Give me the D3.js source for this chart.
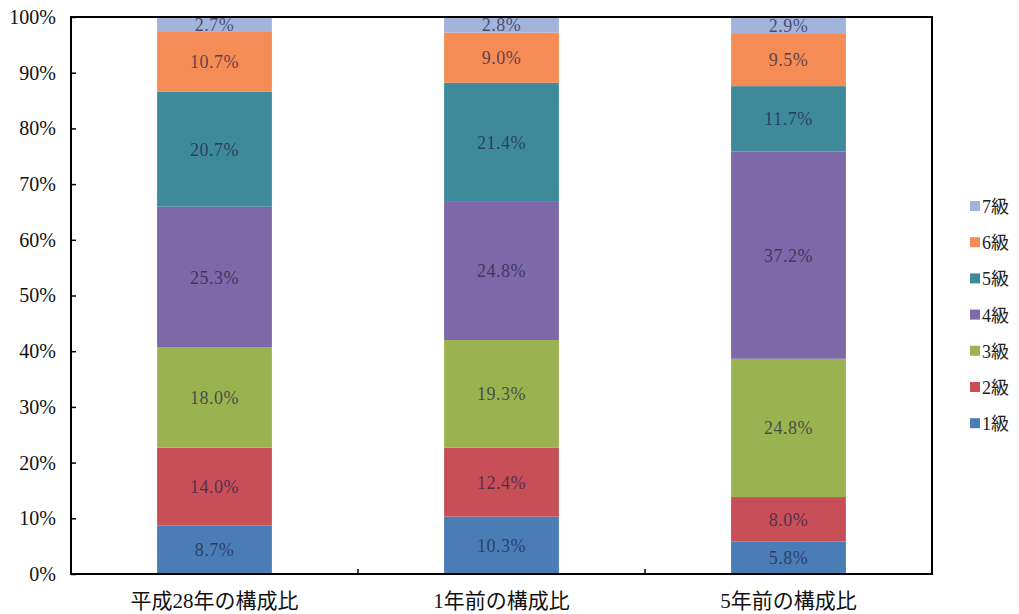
<!DOCTYPE html>
<html><head><meta charset="utf-8">
<script src="https://cdn.jsdelivr.net/npm/d3@7"></script>
<style>body{margin:0;background:#fff}svg{display:block}</style>
</head><body><svg id="c" width="1019" height="614"></svg>
<script>
const categories = ["平成28年の構成比", "1年前の構成比", "5年前の構成比"];
const grades = ["1級", "2級", "3級", "4級", "5級", "6級", "7級"];
const values = {
  "1級": [8.7, 10.3, 5.8],
  "2級": [14.0, 12.4, 8.0],
  "3級": [18.0, 19.3, 24.8],
  "4級": [25.3, 24.8, 37.2],
  "5級": [20.7, 21.4, 11.7],
  "6級": [10.7, 9.0, 9.5],
  "7級": [2.7, 2.8, 2.9]
};
const colors = ["#4a7db6", "#c84f57", "#9bb250", "#7d69a8", "#3e8a9b", "#f58b55", "#a3b4dc"];
const tickValues = [0, 0.1, 0.2, 0.3, 0.4, 0.5, 0.6, 0.7, 0.8, 0.9, 1.0];

const SERIF = "'Liberation Serif', 'DejaVu Serif', serif";
const JP = "'Liberation Serif', 'Noto Sans CJK JP', serif";

const svg = d3.select("#c");
const L = 71, R = 932, T = 17, B = 574;
const x = d3.scaleBand().domain(categories).range([L, R]).paddingInner(0).paddingOuter(0);
const y = d3.scaleLinear().domain([0, 1]).range([B, T]);

const rows = categories.map((c, i) => {
  const o = {cat: c};
  let tot = 0;
  grades.forEach(g => tot += values[g][i]);
  grades.forEach(g => { o[g] = values[g][i] / tot; o[g + "_raw"] = values[g][i]; });
  return o;
});
const stack = d3.stack().keys(grades)(rows);
const bw = x.bandwidth() * 0.4;

stack.forEach((layer, li) => {
  const g = svg.append("g");
  g.selectAll("rect").data(layer).join("rect")
    .attr("x", d => x(d.data.cat) + (x.bandwidth() - bw) / 2)
    .attr("width", bw)
    .attr("y", d => y(d[1]))
    .attr("height", d => y(d[0]) - y(d[1]))
    .attr("fill", colors[li]);
  g.selectAll("text").data(layer).join("text")
    .attr("x", d => x(d.data.cat) + x.bandwidth() / 2)
    .attr("y", d => (y(d[0]) + y(d[1])) / 2 + 6.5)
    .attr("text-anchor", "middle")
    .style("font-family", SERIF)
    .style("font-size", "18px")
    .style("letter-spacing", "0.5px")
    .attr("fill", "rgba(35,35,70,0.72)")
    .text(d => d.data[layer.key + "_raw"].toFixed(1) + "%");
});

svg.append("rect").attr("x", L).attr("y", T).attr("width", R - L).attr("height", B - T)
  .attr("fill", "none").attr("stroke", "#000").attr("stroke-width", 2);

const ya = svg.append("g").attr("transform", `translate(${L},0)`)
  .call(d3.axisLeft(y).tickValues(tickValues).tickFormat(d3.format(".0%")).tickSizeInner(-5).tickSizeOuter(0).tickPadding(15));
ya.select(".domain").remove();
ya.selectAll("line").attr("stroke", "#000").attr("stroke-width", 1.5);
ya.selectAll("text").style("font-family", SERIF).style("font-size", "20px").attr("fill", "#111");

const bounds = [x(categories[1]), x(categories[2])];
svg.selectAll(".xt").data(bounds).join("line")
  .attr("x1", d => d).attr("x2", d => d).attr("y1", B).attr("y2", B - 5)
  .attr("stroke", "#000").attr("stroke-width", 1.5);
svg.selectAll(".xl").data(categories).join("text")
  .attr("x", d => x(d) + x.bandwidth() / 2)
  .attr("y", 608)
  .attr("text-anchor", "middle")
  .style("font-family", JP)
  .style("font-size", "21px")
  .attr("fill", "#111")
  .text(d => d);

const lg = svg.append("g");
const order = grades.slice().reverse();
order.forEach((gName, i) => {
  const yy = 206 + i * 36.2;
  const ci = grades.indexOf(gName);
  lg.append("rect").attr("x", 970).attr("y", yy - 5).attr("width", 10).attr("height", 10).attr("fill", colors[ci]);
  lg.append("text").attr("x", 982).attr("y", yy + 7)
    .style("font-family", JP).style("font-size", "18px").attr("fill", "#222")
    .text(gName);
});
</script></body></html>
